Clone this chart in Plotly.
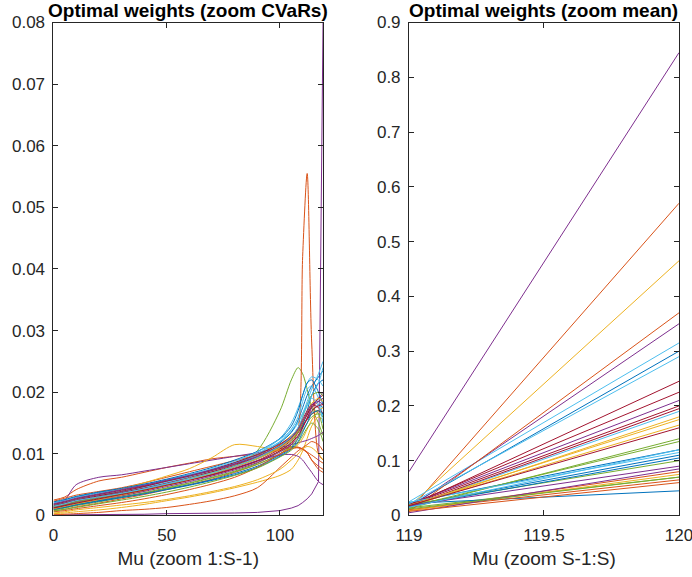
import plotly.graph_objects as go

# Mu positions of the left panel (zoom 1:S-1) and right panel (zoom S-1:S)
mu_left = [0, 5, 10, 20, 30, 40, 50, 60, 70, 80, 90, 100, 105, 108, 110, 112, 114, 117, 119]
mu_right = [119, 120]

# optimal weights of each asset along mu_left, read in thousandths (x 1e-3)
w00 = [1.5, 2.0, 2.6, 3.2, 3.8, 4.4, 5.1, 5.9, 6.8, 7.9, 9.2, 11.0, 12.4, 13.6, 14.6, 15.6, 16.8, 18.0, 17.5]
w01 = [2.5, 3.0, 4.2, 5.6, 6.2, 7.0, 7.8, 8.5, 9.2, 9.6, 10.0, 10.8, 11.2, 11.1, 10.8, 10.3, 9.8, 9.0, 8.5]
w02 = [1.0, 1.3, 1.8, 2.5, 3.2, 4.0, 5.0, 6.0, 7.0, 8.0, 9.5, 11.5, 13.0, 14.0, 14.8, 15.6, 16.4, 17.0, 16.0]
w03 = [0.1, 0.1, 0.1, 0.2, 0.2, 0.2, 0.3, 0.3, 0.3, 0.4, 0.5, 0.8, 1.2, 1.6, 2.1, 2.7, 3.5, 5.5, 80.0]
w04 = [1.2, 1.6, 2.0, 2.8, 3.5, 4.2, 5.0, 5.8, 6.8, 8.0, 10.5, 17.0, 22.0, 24.0, 23.0, 20.5, 17.5, 15.0, 13.0]
w05 = [1.8, 2.2, 2.7, 3.4, 4.0, 4.7, 5.5, 6.4, 7.4, 8.6, 10.0, 12.0, 13.5, 15.0, 16.5, 18.5, 20.5, 23.0, 25.0]
w06 = [1.3, 1.7, 2.2, 2.9, 3.5, 4.2, 5.0, 5.8, 6.6, 7.6, 8.9, 10.8, 12.2, 13.4, 14.5, 15.6, 16.5, 17.0, 16.5]
w07 = [2.0, 2.5, 3.0, 3.7, 4.3, 5.0, 5.8, 6.6, 7.5, 8.5, 9.8, 11.8, 13.5, 15.5, 17.5, 19.5, 21.0, 22.5, 23.5]
w08 = [0.8, 1.0, 1.4, 2.0, 2.7, 3.4, 4.2, 5.0, 5.9, 7.0, 8.3, 10.0, 11.5, 14.0, 42.0, 55.5, 28.0, 10.0, 9.0]
w09 = [0.3, 0.4, 0.6, 0.9, 1.3, 1.8, 2.4, 3.0, 3.7, 4.5, 5.4, 6.5, 7.5, 9.0, 10.5, 12.5, 14.5, 16.0, 15.5]
w10 = [1.5, 2.5, 5.0, 6.2, 6.6, 7.2, 7.8, 8.4, 9.0, 9.6, 10.2, 11.0, 11.5, 11.8, 12.0, 12.2, 12.5, 13.0, 13.5]
w11 = [1.0, 1.3, 1.7, 2.4, 3.0, 3.7, 4.5, 5.3, 6.2, 7.2, 8.5, 10.5, 12.0, 13.5, 15.0, 16.5, 17.5, 16.5, 14.0]
w12 = [1.6, 2.0, 2.5, 3.1, 3.7, 4.4, 5.2, 6.1, 7.1, 8.3, 9.8, 12.0, 14.0, 16.0, 18.5, 20.5, 21.0, 19.0, 16.0]
w13 = [1.4, 1.8, 2.3, 3.0, 3.7, 4.5, 5.3, 6.2, 7.1, 8.1, 9.4, 11.2, 12.6, 13.8, 15.0, 16.3, 17.5, 18.5, 19.0]
w14 = [1.1, 1.4, 1.8, 2.4, 3.0, 3.6, 4.3, 5.0, 5.8, 6.8, 8.0, 9.8, 11.0, 12.5, 14.5, 17.0, 19.5, 21.5, 22.0]
w15 = [2.3, 2.8, 3.3, 3.9, 4.5, 5.3, 6.2, 7.1, 8.0, 8.9, 9.8, 10.6, 11.0, 11.0, 10.7, 10.2, 9.0, 7.5, 7.0]
w16 = [1.8, 2.3, 2.8, 3.5, 4.3, 5.3, 6.4, 7.6, 9.4, 11.5, 11.2, 10.6, 10.8, 11.5, 12.5, 14.0, 15.5, 17.0, 17.5]
w17 = [1.2, 1.6, 2.0, 2.6, 3.2, 3.9, 4.7, 5.5, 6.4, 7.4, 8.6, 10.3, 11.5, 12.8, 14.2, 15.8, 17.5, 19.0, 20.0]
w18 = [0.9, 1.2, 1.6, 2.2, 2.9, 3.6, 4.4, 5.2, 6.1, 7.1, 8.3, 10.0, 11.2, 12.5, 13.8, 15.0, 16.0, 16.5, 16.0]
w19 = [1.7, 2.1, 2.6, 3.3, 3.9, 4.6, 5.4, 6.3, 7.3, 8.5, 10.0, 12.5, 15.0, 17.5, 19.5, 21.5, 22.5, 22.0, 21.0]
w20 = [1.6, 2.0, 2.5, 3.2, 3.9, 4.7, 5.6, 6.5, 7.5, 8.6, 9.9, 11.6, 12.8, 14.0, 15.2, 16.5, 17.8, 19.0, 19.5]
w21 = [2.2, 2.6, 3.1, 3.8, 4.4, 5.1, 5.9, 6.8, 7.8, 9.0, 10.4, 12.5, 14.5, 17.0, 19.5, 21.5, 22.0, 20.0, 18.0]
w22 = [0.1, 0.2, 0.3, 0.5, 0.8, 1.0, 1.3, 1.8, 2.4, 3.2, 4.5, 7.8, 9.5, 10.5, 11.0, 11.5, 12.0, 11.5, 10.5]
w23 = [0.4, 0.6, 0.9, 1.3, 1.7, 2.1, 2.6, 3.2, 3.9, 4.7, 5.8, 7.5, 9.0, 10.0, 10.8, 11.2, 11.0, 10.0, 9.0]
w24 = [1.3, 1.7, 2.2, 2.9, 3.5, 4.2, 5.0, 5.8, 6.7, 7.7, 8.9, 9.8, 9.9, 9.6, 9.0, 8.0, 7.0, 5.5, 5.0]
w25 = [1.4, 1.8, 2.2, 2.9, 3.5, 4.2, 5.0, 5.9, 6.9, 8.0, 9.3, 11.2, 12.5, 14.0, 16.0, 18.0, 19.5, 20.0, 19.5]
w26 = [2.0, 2.4, 2.9, 3.6, 4.2, 4.9, 5.7, 6.6, 7.6, 8.8, 10.3, 12.4, 13.8, 15.2, 16.6, 18.0, 19.5, 21.5, 24.0]
w27 = [1.8, 2.2, 2.7, 3.4, 4.1, 4.8, 5.6, 6.4, 7.3, 8.3, 9.5, 11.4, 12.8, 14.2, 15.6, 17.0, 18.0, 17.5, 16.5]
w28 = [1.0, 1.3, 1.7, 2.3, 2.9, 3.5, 4.2, 4.9, 5.7, 6.6, 7.8, 9.6, 10.8, 12.0, 13.5, 15.0, 16.5, 17.0, 16.5]
w29 = [0.6, 0.8, 1.1, 1.6, 2.1, 2.7, 3.4, 4.2, 5.1, 6.2, 7.8, 10.0, 10.8, 11.0, 10.8, 10.2, 9.0, 8.0, 7.5]
w30 = [1.1, 1.5, 1.9, 2.6, 3.3, 4.1, 4.9, 5.8, 6.8, 7.9, 9.2, 11.0, 12.4, 13.8, 15.2, 16.8, 18.2, 19.0, 18.5]
w31 = [1.9, 2.3, 2.8, 3.5, 4.2, 4.9, 5.7, 6.5, 7.4, 8.4, 9.6, 11.3, 12.6, 13.9, 15.3, 16.8, 18.0, 18.5, 18.0]
w32 = [0.7, 1.0, 1.3, 1.9, 2.5, 3.1, 3.8, 4.6, 5.5, 6.5, 7.7, 9.5, 10.6, 11.8, 13.0, 14.2, 15.0, 14.0, 12.0]
w33 = [1.5, 1.9, 2.4, 3.0, 3.6, 4.3, 5.1, 5.9, 6.9, 8.0, 9.4, 11.3, 12.8, 14.3, 16.0, 17.8, 19.0, 18.0, 15.0]
w34 = [1.2, 1.6, 2.0, 2.7, 3.4, 4.1, 4.9, 5.7, 6.6, 7.6, 8.8, 10.5, 11.8, 13.0, 14.3, 15.8, 17.0, 17.8, 18.0]

weights_left = [w00, w01, w02, w03, w04, w05, w06, w07, w08, w09, w10, w11, w12, w13, w14, w15, w16,
                w17, w18, w19, w20, w21, w22, w23, w24, w25, w26, w27, w28, w29, w30, w31, w32, w33, w34]

# weight of each asset at the last Mu (S = 120)
weights_end = [0.30, 0.57, 0.465, 0.845, 0.14, 0.315, 0.245, 0.12, 0.08, 0.18, 0.35, 0.07,
               0.19, 0.20, 0.045, 0.37, 0.165, 0.21, 0.135, 0.29, 0.225, 0.11, 0.065, 0.075,
               0.085, 0.10, 0.115, 0.195, 0.105, 0.06, 0.175, 0.09, 0.07, 0.12, 0.16]

# MATLAB default colour order
colors = ["#0072BD", "#D95319", "#EDB120", "#7E2F8E", "#77AC30", "#4DBEEE", "#A2142F"]

fig = go.Figure()
for i, w in enumerate(weights_left):
    col = colors[i % len(colors)]
    fig.add_trace(go.Scatter(
        x=mu_left, y=[v / 1000 for v in w], mode="lines",
        line=dict(color=col, width=1, shape="linear" if i == 3 else "spline", smoothing=0.8),
        xaxis="x", yaxis="y", showlegend=False, hoverinfo="skip"))
for i, w in enumerate(weights_left):
    col = colors[i % len(colors)]
    fig.add_trace(go.Scatter(
        x=mu_right, y=[w[-1] / 1000, weights_end[i]], mode="lines",
        line=dict(color=col, width=1),
        xaxis="x2", yaxis="y2", showlegend=False, hoverinfo="skip"))

ax_col = "#262626"
font = "Liberation Sans, Arial, Helvetica, sans-serif"
common = dict(showline=True, linecolor=ax_col, linewidth=1, mirror="ticks", ticks="inside",
              ticklen=5, tickcolor=ax_col, showgrid=False, zeroline=False, ticklabeloverflow="allow",
              tickfont=dict(size=17, color=ax_col, family=font), automargin=False)

fig.update_layout(
    width=692, height=577,
    margin=dict(l=0, r=0, t=0, b=0),
    paper_bgcolor="white", plot_bgcolor="white",
    font=dict(family=font, color=ax_col),
    xaxis=dict(domain=[0.0773, 0.4668], range=[0, 119], tickvals=[0, 50, 100], anchor="y",
               ticklabelstandoff=4,
               title=dict(text="Mu (zoom 1:S-1)", font=dict(size=19, color=ax_col), standoff=7), **common),
    yaxis=dict(domain=[0.1066, 0.961], range=[0, 0.08], dtick=0.01, tick0=0, anchor="x",
               ticklabelstandoff=4, **common),
    xaxis2=dict(domain=[0.591, 0.9812], range=[119, 120], tickvals=[119, 119.5, 120], anchor="y2",
                ticklabelstandoff=4,
                title=dict(text="Mu (zoom S-1:S)", font=dict(size=19, color=ax_col), standoff=7), **common),
    yaxis2=dict(domain=[0.1066, 0.961], range=[0, 0.9], dtick=0.1, tick0=0, anchor="x2",
                ticklabelstandoff=4, **common),
    annotations=[
        dict(text="<b>Optimal weights (zoom CVaRs)</b>", x=0.272, y=1 - 11 / 577, xref="paper", yref="paper",
             xanchor="center", yanchor="middle", showarrow=False, font=dict(size=19, color="black")),
        dict(text="<b>Optimal weights (zoom mean)</b>", x=0.786, y=1 - 11 / 577, xref="paper", yref="paper",
             xanchor="center", yanchor="middle", showarrow=False, font=dict(size=19, color="black")),
    ],
)

fig.write_html("out.html", config={"displayModeBar": False},
               post_script="document.body.style.margin='0';")
